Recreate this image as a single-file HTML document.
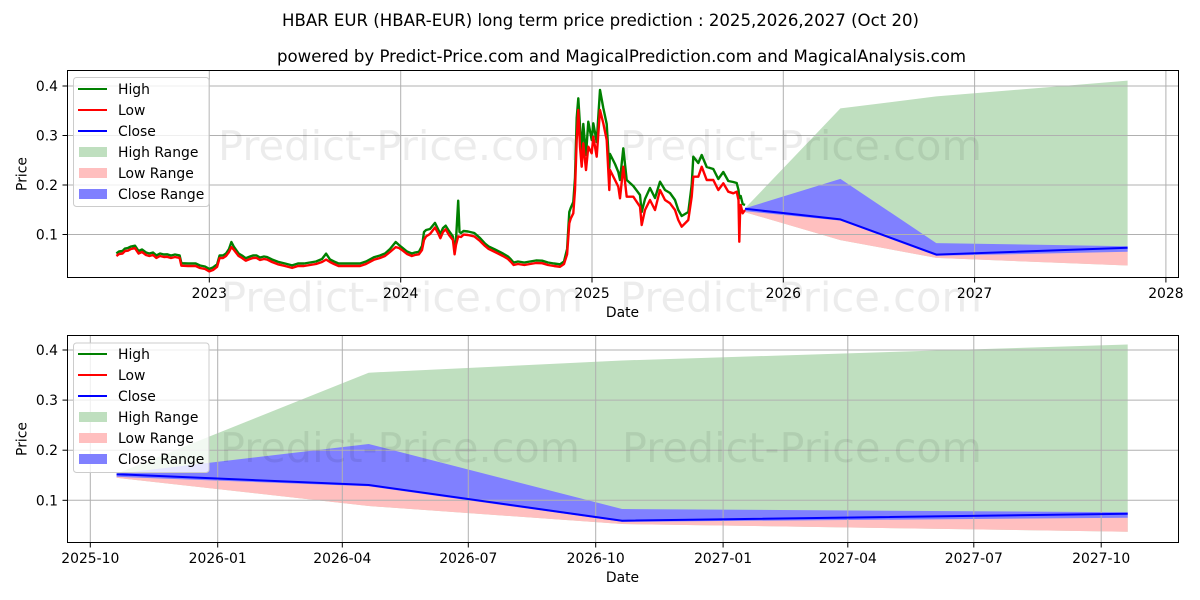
<!DOCTYPE html>
<html>
<head>
<meta charset="utf-8">
<style>
  html, body { margin: 0; padding: 0; background: #ffffff; }
  svg { display: block; }
  text { font-family: "DejaVu Sans", "Liberation Sans", sans-serif; fill: #000; }
</style>
</head>
<body>
<svg width="1200" height="600" viewBox="0 0 1200 600" xmlns="http://www.w3.org/2000/svg">
  <defs>
    <clipPath id="c1"><rect x="67.5" y="70.5" width="1111" height="207"/></clipPath>
    <clipPath id="c2"><rect x="67.5" y="335.5" width="1111" height="207"/></clipPath>
  </defs>
  <rect x="0" y="0" width="1200" height="600" fill="#ffffff"/>

  <!-- Titles -->
  <text x="282" y="26" font-size="16.7" textLength="637" lengthAdjust="spacingAndGlyphs">HBAR EUR (HBAR-EUR) long term price prediction : 2025,2026,2027 (Oct 20)</text>
  <text x="277" y="62" font-size="16.7" textLength="689" lengthAdjust="spacingAndGlyphs">powered by Predict-Price.com and MagicalPrediction.com and MagicalAnalysis.com</text>

  <!-- ================= CHART 1 ================= -->
  <g clip-path="url(#c1)">
    <polygon fill="#bfdfbf" points="745,208.3 840.4,108.4 936.3,96.4 1127.6,80.6 1127.6,265.5 936.3,257.9 840.4,240.1 745,212.2"/>
    <polygon fill="#ffbfbf" points="745,208.8 840.4,219.4 936.3,254.6 1127.6,247.7 1127.6,265.5 936.3,257.9 840.4,240.1 745,212.2"/>
    <polygon fill="#8080ff" points="745,208.3 840.4,178.9 936.3,243.1 1127.6,246.2 1127.6,251.8 936.3,255.8 840.4,220.6 745,211.2"/>
    <g stroke="#b0b0b0" stroke-width="1">
      <line x1="209.3" y1="70" x2="209.3" y2="278"/>
      <line x1="400.7" y1="70" x2="400.7" y2="278"/>
      <line x1="592" y1="70" x2="592" y2="278"/>
      <line x1="783.3" y1="70" x2="783.3" y2="278"/>
      <line x1="974.6" y1="70" x2="974.6" y2="278"/>
      <line x1="1165.9" y1="70" x2="1165.9" y2="278"/>
      <line x1="67" y1="234.5" x2="1179" y2="234.5"/>
      <line x1="67" y1="185" x2="1179" y2="185"/>
      <line x1="67" y1="135.5" x2="1179" y2="135.5"/>
      <line x1="67" y1="86" x2="1179" y2="86"/>
    </g>
    <text x="218" y="160" font-size="41" textLength="362" lengthAdjust="spacingAndGlyphs" style="fill:#000;fill-opacity:0.075">Predict-Price.com</text>
    <text x="620" y="160" font-size="41" textLength="362" lengthAdjust="spacingAndGlyphs" style="fill:#000;fill-opacity:0.075">Predict-Price.com</text>
    <!-- High -->
    <polyline fill="none" stroke="#008000" stroke-width="2.4" stroke-linejoin="round" points="116.4,253.5 119,251.5 122.5,251 125,248.5 127.9,248 131,246.5 135,245.7 138.6,251 142,249.5 146,252.5 149.3,253.5 153,252.5 156.4,255.4 160,253.5 164,254.5 167.1,254.3 171,255.5 175,254.5 179.6,255.4 181.4,263.2 188,263.5 195.7,263.5 200,265.5 205,266.5 209.3,268.9 213,267.5 217.1,264.3 219.6,255.4 223,255.5 226,253.5 229,249 231.4,242 234,247 238.6,253.5 242,255.5 245.7,258.2 250,256.5 253,255.5 256.4,255.4 260,257.5 264,256.5 267.1,257.1 272,259.5 277.9,261.8 285,263.5 292.1,265.4 298,263.5 304,263.5 310,262.5 316,261.5 322,259 326.1,253.6 330,259.5 334,261.5 338.6,263.5 345,263.5 352,263.5 360,263.5 366,261.5 374.3,257.1 380,255.5 385,253.5 390,249 395.7,242 399,245 402.9,248.2 407,251.5 411.8,253.5 415,252.5 418.9,251.8 422,246 424,232 426.1,230 430,229 435,222.9 438,229 440.4,234 443,228 445.7,225.7 449,231 452.9,236.5 454.6,250 456,240 458.2,200.7 459.5,232 461,233 463.6,231 468,231.5 474.3,233 480,238 485,243.5 488.6,246.4 495,249.5 502.9,253.5 508,256.5 511,259.5 513.6,262.5 518,261.5 524.3,262.5 530,261.5 536,260.5 542.1,260.7 548,262.5 554,263.5 560,264.3 564,261.5 567.1,249 569.3,212 570.7,208 573.3,202 575,178 576.7,118 578.3,98.3 580,126 581.7,152 583.3,124 586,155 588.3,121.7 591.7,140 593.3,123.3 596.7,142 600,90 603.3,108 606.7,124 609.3,168 610,154 615,164 618.3,172 620,180 623.3,148.3 626.7,180 633.3,186 640,195 641.7,212 645,199 650,188 655,198 660,181.7 665,190 670,193 675,200 678.3,210 681.7,216 688.3,212 691.7,185 693.3,156.7 698.3,163 701.7,155 706.7,167 713.3,169 718.3,179 723.3,172 728.3,181 733.3,182 736.7,183 738.5,190 739.3,198 740.7,196 742.7,204 745,205"/>
    <!-- Low -->
    <polyline fill="none" stroke="#ff0000" stroke-width="2.4" stroke-linejoin="round" points="116.4,256 119,254 122.5,253.6 125,251 127.9,250.7 131,249 135,248.2 138.6,253.6 142,252 146,255 149.3,256 153,255 156.4,257.9 160,256 164,257 167.1,256.8 171,258 175,257 179.6,257.9 181.4,265.7 188,266 195.7,266 200,268 205,269 209.3,271.4 213,270 217.1,266.8 219.6,257.9 223,258 226,256 229,252 231.4,247.1 234,250 238.6,256 242,258 245.7,260.7 250,259 253,258 256.4,257.9 260,260 264,259 267.1,259.6 272,262 277.9,264.3 285,266 292.1,267.9 298,266 304,266 310,265 316,264 322,262 326.1,259.6 330,262 334,264 338.6,266 345,266 352,266 360,266 366,264 374.3,259.6 380,258 385,256 390,252 395.7,247.1 399,248 402.9,250.7 407,254 411.8,256 415,255 418.9,254.3 422,250 424,240 426.1,236.4 430,234 435,227.5 438,233 440.4,238.2 443,232 445.7,229.3 449,235 452.9,240 454.6,254.3 456,245 458.2,236.4 461,237 463.6,234.6 468,235 474.3,236.4 480,241 485,246 488.6,248.9 495,252 502.9,256 508,259 511,262 513.6,265 518,264 524.3,265 530,264 536,263 542.1,263.2 548,265 554,266 560,266.8 564,264 567.1,254.3 569.3,223.3 570.7,218.6 573.3,213.3 575,190 576.7,140 578.3,110 580,146.7 581.7,166.7 583.3,143.3 586,170 588.3,146.7 591.7,153.3 593.3,136.7 596.7,156.7 600,110 603.3,123.3 606.7,140 609.3,190 610,170 615,180 618.3,186.7 620,198.3 623.3,166.7 626.7,196.7 633.3,196.7 640,206.7 641.7,225 645,210 650,200 655,210 660,190 665,200 670,203.3 675,210 678.3,220 681.7,226.7 688.3,220 691.7,196.7 693.3,176.7 698.3,176.7 701.7,166.7 706.7,180 713.3,180 718.3,190 723.3,183.3 728.3,191.7 733.3,193.3 736.7,191.7 738.5,200 739.3,241.7 740,215 740.7,205 742.7,213.3 745,210"/>
    <polyline fill="none" stroke="#0000ff" stroke-width="2" stroke-linejoin="round" points="745,208.8 840.4,219.4 936.3,254.6 1127.6,247.7"/>
  </g>
  <text x="221" y="311.7" font-size="41" textLength="362" lengthAdjust="spacingAndGlyphs" style="fill:#000;fill-opacity:0.075">Predict-Price.com</text>
  <text x="620" y="311.7" font-size="41" textLength="362" lengthAdjust="spacingAndGlyphs" style="fill:#000;fill-opacity:0.075">Predict-Price.com</text>

  <rect x="67.5" y="70.5" width="1111" height="207" fill="none" stroke="#000" stroke-width="1"/>
  <g stroke="#000" stroke-width="1">
    <line x1="62.5" y1="234.5" x2="67.5" y2="234.5"/>
    <line x1="62.5" y1="185" x2="67.5" y2="185"/>
    <line x1="62.5" y1="135.5" x2="67.5" y2="135.5"/>
    <line x1="62.5" y1="86" x2="67.5" y2="86"/>
    <line x1="209.3" y1="277.5" x2="209.3" y2="282.5"/>
    <line x1="400.7" y1="277.5" x2="400.7" y2="282.5"/>
    <line x1="592" y1="277.5" x2="592" y2="282.5"/>
    <line x1="783.3" y1="277.5" x2="783.3" y2="282.5"/>
    <line x1="974.6" y1="277.5" x2="974.6" y2="282.5"/>
    <line x1="1165.9" y1="277.5" x2="1165.9" y2="282.5"/>
  </g>
  <g font-size="13.9" text-anchor="end">
    <text x="58" y="239.5">0.1</text>
    <text x="58" y="190">0.2</text>
    <text x="58" y="140.5">0.3</text>
    <text x="58" y="91">0.4</text>
  </g>
  <g font-size="13.9" text-anchor="middle">
    <text x="209.3" y="298">2023</text>
    <text x="400.7" y="298">2024</text>
    <text x="592" y="298">2025</text>
    <text x="783.3" y="298">2026</text>
    <text x="974.6" y="298">2027</text>
    <text x="1165.9" y="298">2028</text>
    <text x="622.5" y="317">Date</text>
  </g>
  <text x="0" y="0" font-size="13.9" text-anchor="middle" transform="translate(26.5,174) rotate(-90)">Price</text>

  <rect x="73.5" y="77.5" width="135.5" height="129" rx="3" fill="#ffffff" fill-opacity="0.8" stroke="#cccccc" stroke-width="1"/>
  <line x1="78" y1="89" x2="107" y2="89" stroke="#008000" stroke-width="2"/>
  <line x1="78" y1="110" x2="107" y2="110" stroke="#ff0000" stroke-width="2"/>
  <line x1="78" y1="131" x2="107" y2="131" stroke="#0000ff" stroke-width="2"/>
  <rect x="79" y="147" width="28" height="10" fill="#bfdfbf"/>
  <rect x="79" y="168" width="28" height="10" fill="#ffbfbf"/>
  <rect x="79" y="189" width="28" height="10" fill="#8080ff"/>
  <g font-size="13.9">
    <text x="118" y="94">High</text>
    <text x="118" y="115">Low</text>
    <text x="118" y="136">Close</text>
    <text x="118" y="157">High Range</text>
    <text x="118" y="178">Low Range</text>
    <text x="118" y="199">Close Range</text>
  </g>

  <!-- ================= CHART 2 ================= -->
  <g clip-path="url(#c2)">
    <polygon fill="#bfdfbf" points="116.6,473.7 368.7,372.7 622.1,360.5 1127.7,344.5 1127.7,531.7 622.1,524.0 368.7,506.0 116.6,477.8"/>
    <polygon fill="#ffbfbf" points="116.6,474.2 368.7,485.0 622.1,520.7 1127.7,513.7 1127.7,531.7 622.1,524.0 368.7,506.0 116.6,477.8"/>
    <polygon fill="#8080ff" points="116.6,473.7 368.7,444.0 622.1,509.0 1127.7,512.2 1127.7,517.8 622.1,521.8 368.7,486.3 116.6,476.8"/>
    <g stroke="#b0b0b0" stroke-width="1">
      <line x1="90.3" y1="335" x2="90.3" y2="543"/>
      <line x1="217.7" y1="335" x2="217.7" y2="543"/>
      <line x1="342.3" y1="335" x2="342.3" y2="543"/>
      <line x1="468.3" y1="335" x2="468.3" y2="543"/>
      <line x1="595.7" y1="335" x2="595.7" y2="543"/>
      <line x1="723.1" y1="335" x2="723.1" y2="543"/>
      <line x1="847.8" y1="335" x2="847.8" y2="543"/>
      <line x1="973.8" y1="335" x2="973.8" y2="543"/>
      <line x1="1101.2" y1="335" x2="1101.2" y2="543"/>
      <line x1="67" y1="500.3" x2="1179" y2="500.3"/>
      <line x1="67" y1="450.2" x2="1179" y2="450.2"/>
      <line x1="67" y1="400.1" x2="1179" y2="400.1"/>
      <line x1="67" y1="350" x2="1179" y2="350"/>
    </g>
    <text x="220" y="462" font-size="41" textLength="360" lengthAdjust="spacingAndGlyphs" style="fill:#000;fill-opacity:0.075">Predict-Price.com</text>
    <text x="622" y="462" font-size="41" textLength="360" lengthAdjust="spacingAndGlyphs" style="fill:#000;fill-opacity:0.075">Predict-Price.com</text>
    <polyline fill="none" stroke="#0000ff" stroke-width="2" stroke-linejoin="round" points="116.6,474.2 368.7,485.0 622.1,520.7 1127.7,513.7"/>
  </g>
  <rect x="67.5" y="335.5" width="1111" height="207" fill="none" stroke="#000" stroke-width="1"/>
  <g stroke="#000" stroke-width="1">
    <line x1="62.5" y1="500.3" x2="67.5" y2="500.3"/>
    <line x1="62.5" y1="450.2" x2="67.5" y2="450.2"/>
    <line x1="62.5" y1="400.1" x2="67.5" y2="400.1"/>
    <line x1="62.5" y1="350" x2="67.5" y2="350"/>
    <line x1="90.3" y1="542.5" x2="90.3" y2="547.5"/>
    <line x1="217.7" y1="542.5" x2="217.7" y2="547.5"/>
    <line x1="342.3" y1="542.5" x2="342.3" y2="547.5"/>
    <line x1="468.3" y1="542.5" x2="468.3" y2="547.5"/>
    <line x1="595.7" y1="542.5" x2="595.7" y2="547.5"/>
    <line x1="723.1" y1="542.5" x2="723.1" y2="547.5"/>
    <line x1="847.8" y1="542.5" x2="847.8" y2="547.5"/>
    <line x1="973.8" y1="542.5" x2="973.8" y2="547.5"/>
    <line x1="1101.2" y1="542.5" x2="1101.2" y2="547.5"/>
  </g>
  <g font-size="13.9" text-anchor="end">
    <text x="58" y="505.3">0.1</text>
    <text x="58" y="455.2">0.2</text>
    <text x="58" y="405.1">0.3</text>
    <text x="58" y="355">0.4</text>
  </g>
  <g font-size="13.9" text-anchor="middle">
    <text x="90.3" y="563">2025-10</text>
    <text x="217.7" y="563">2026-01</text>
    <text x="342.3" y="563">2026-04</text>
    <text x="468.3" y="563">2026-07</text>
    <text x="595.7" y="563">2026-10</text>
    <text x="723.1" y="563">2027-01</text>
    <text x="847.8" y="563">2027-04</text>
    <text x="973.8" y="563">2027-07</text>
    <text x="1101.2" y="563">2027-10</text>
    <text x="622.5" y="582">Date</text>
  </g>
  <text x="0" y="0" font-size="13.9" text-anchor="middle" transform="translate(26.5,439) rotate(-90)">Price</text>

  <rect x="73.5" y="343" width="135.5" height="129.5" rx="3" fill="#ffffff" fill-opacity="0.8" stroke="#cccccc" stroke-width="1"/>
  <line x1="78" y1="354" x2="107" y2="354" stroke="#008000" stroke-width="2"/>
  <line x1="78" y1="375" x2="107" y2="375" stroke="#ff0000" stroke-width="2"/>
  <line x1="78" y1="396" x2="107" y2="396" stroke="#0000ff" stroke-width="2"/>
  <rect x="79" y="412" width="28" height="10" fill="#bfdfbf"/>
  <rect x="79" y="433" width="28" height="10" fill="#ffbfbf"/>
  <rect x="79" y="454" width="28" height="10" fill="#8080ff"/>
  <g font-size="13.9">
    <text x="118" y="359">High</text>
    <text x="118" y="380">Low</text>
    <text x="118" y="401">Close</text>
    <text x="118" y="422">High Range</text>
    <text x="118" y="443">Low Range</text>
    <text x="118" y="464">Close Range</text>
  </g>
</svg>
</body>
</html>
